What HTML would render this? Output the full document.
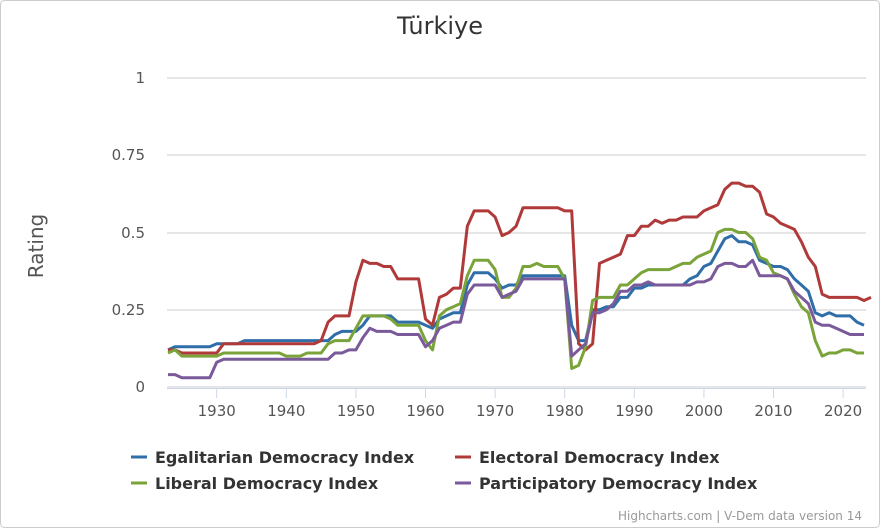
<!DOCTYPE html>
<html><head><meta charset="utf-8"><style>
html,body{margin:0;padding:0;background:#fff}
svg{display:block;font-family:"DejaVu Sans","Liberation Sans",sans-serif}
</style></head><body>
<svg id="c" width="880" height="528" xmlns="http://www.w3.org/2000/svg">
<rect x="0.5" y="0.5" width="879" height="527" rx="4" fill="#fff" stroke="#ccc"/>
<text x="440" y="34" text-anchor="middle" font-size="24" fill="#333">Türkiye</text>
<text transform="translate(43,246) rotate(-90)" text-anchor="middle" font-size="20" fill="#555">Rating</text>
<g stroke="#e6e6e6" stroke-width="2">
<line x1="167" x2="866" y1="78" y2="78"/><line x1="167" x2="866" y1="155" y2="155"/>
<line x1="167" x2="866" y1="233" y2="233"/><line x1="167" x2="866" y1="310" y2="310"/>
<line x1="167" x2="866" y1="387" y2="387"/>
</g>
<line x1="167" x2="866" y1="388.5" y2="388.5" stroke="#ccd6eb"/>
<g font-size="15" fill="#555" text-anchor="end">
<text x="145" y="83">1</text><text x="145" y="160">0.75</text><text x="145" y="238">0.5</text>
<text x="145" y="315">0.25</text><text x="145" y="392">0</text>
</g>
<g id="xt" stroke="#ccd6eb"></g>
<g id="xl" font-size="15" fill="#555" text-anchor="middle"></g>
<g id="ser" fill="none" stroke-width="3" stroke-linejoin="round"></g>
<g font-size="16" font-weight="bold" fill="#333">
<line x1="131" x2="147" y1="457" y2="457" stroke="#2f6ea8" stroke-width="3"/><text x="155" y="463">Egalitarian Democracy Index</text>
<line x1="455" x2="471" y1="457" y2="457" stroke="#b03a3a" stroke-width="3"/><text x="479" y="463">Electoral Democracy Index</text>
<line x1="131" x2="147" y1="483" y2="483" stroke="#7aa33a" stroke-width="3"/><text x="155" y="489">Liberal Democracy Index</text>
<line x1="455" x2="471" y1="483" y2="483" stroke="#7a5a9a" stroke-width="3"/><text x="479" y="489">Participatory Democracy Index</text>
</g>
<text x="862" y="520" text-anchor="end" font-size="12" fill="#999">Highcharts.com | V-Dem data version 14</text>
</svg>
<script>
var X=function(y){return 168+(y-1923)*6.96},Y=function(v){return 387-v*309};
var xt=document.getElementById('xt'),xl=document.getElementById('xl'),ns='http://www.w3.org/2000/svg';
for(var y=1930;y<=2020;y+=10){var l=document.createElementNS(ns,'line');l.setAttribute('x1',X(y));l.setAttribute('x2',X(y));l.setAttribute('y1',388);l.setAttribute('y2',398);xt.appendChild(l);
var t=document.createElementNS(ns,'text');t.setAttribute('x',X(y));t.setAttribute('y',416);t.textContent=y;xl.appendChild(t);}
function exp(s){var o=[];s.split(' ').forEach(function(p){var a=p.split('x');var n=a[1]?+a[1]:1;for(var i=0;i<n;i++)o.push(+a[0]);});return o;}
var D={
'#b03a3a':'.12x2 .11x6 .14x14 .15 .21 .23x3 .34 .41 .40x2 .39x2 .35x4 .22 .20 .29 .30 .32x2 .52 .57x3 .55 .49 .50 .52 .58x6 .57x2 .14 .12 .14 .40 .41 .42 .43 .49x2 .52x2 .54 .53 .54x2 .55x3 .57 .58 .59 .64 .66x2 .65x2 .63 .56 .55 .53 .52 .51 .47 .42 .39 .30 .29x5 .28 .29',
'#2f6ea8':'.12 .13x6 .14x4 .15x13 .17 .18x3 .20 .23x4 .21x4 .20 .19 .22 .23 .24x2 .33 .37x3 .35 .32 .33x2 .36x7 .20 .15x2 .25x2 .26x2 .29x2 .32x2 .33x6 .35 .36 .39 .40 .44 .48 .49 .47x2 .46 .41 .40 .39x2 .38 .35 .33 .31 .24 .23 .24 .23x3 .21 .20',
'#7aa33a':'.11 .12 .10x6 .11x9 .10x3 .11x3 .14 .15x3 .19 .23x4 .22 .20x4 .15 .12 .23 .25 .26 .27 .36 .41x3 .38 .29x2 .32 .39x2 .40 .39x3 .35 .06 .07 .13 .28 .29x3 .33x2 .35 .37 .38x4 .39 .40x2 .42 .43 .44 .50 .51x2 .50x2 .48 .42 .41 .37 .36 .35 .30 .26 .24 .15 .10 .11x2 .12x2 .11x2',
'#7a5a9a':'.04x2 .03x5 .08 .09x16 .11x2 .12x2 .16 .19 .18x3 .17x4 .13 .15 .19 .20 .21x2 .30 .33x4 .29 .30 .31 .35x7 .10 .12 .14 .24x2 .25 .27 .31x2 .33x2 .34 .33x6 .34x2 .35 .39 .40x2 .39x2 .41 .36x4 .35 .31 .29 .27 .21 .20x2 .19 .18 .17x3'};
var g=document.getElementById('ser');
['#2f6ea8','#b03a3a','#7aa33a','#7a5a9a'].forEach(function(c){var v=exp(D[c]);var pts=v.map(function(a,i){return X(1923+i).toFixed(1)+','+Y(a).toFixed(1)}).join(' ');
var p=document.createElementNS(ns,'polyline');p.setAttribute('points',pts);p.setAttribute('stroke',c);g.appendChild(p);});
</script>
</body></html>
